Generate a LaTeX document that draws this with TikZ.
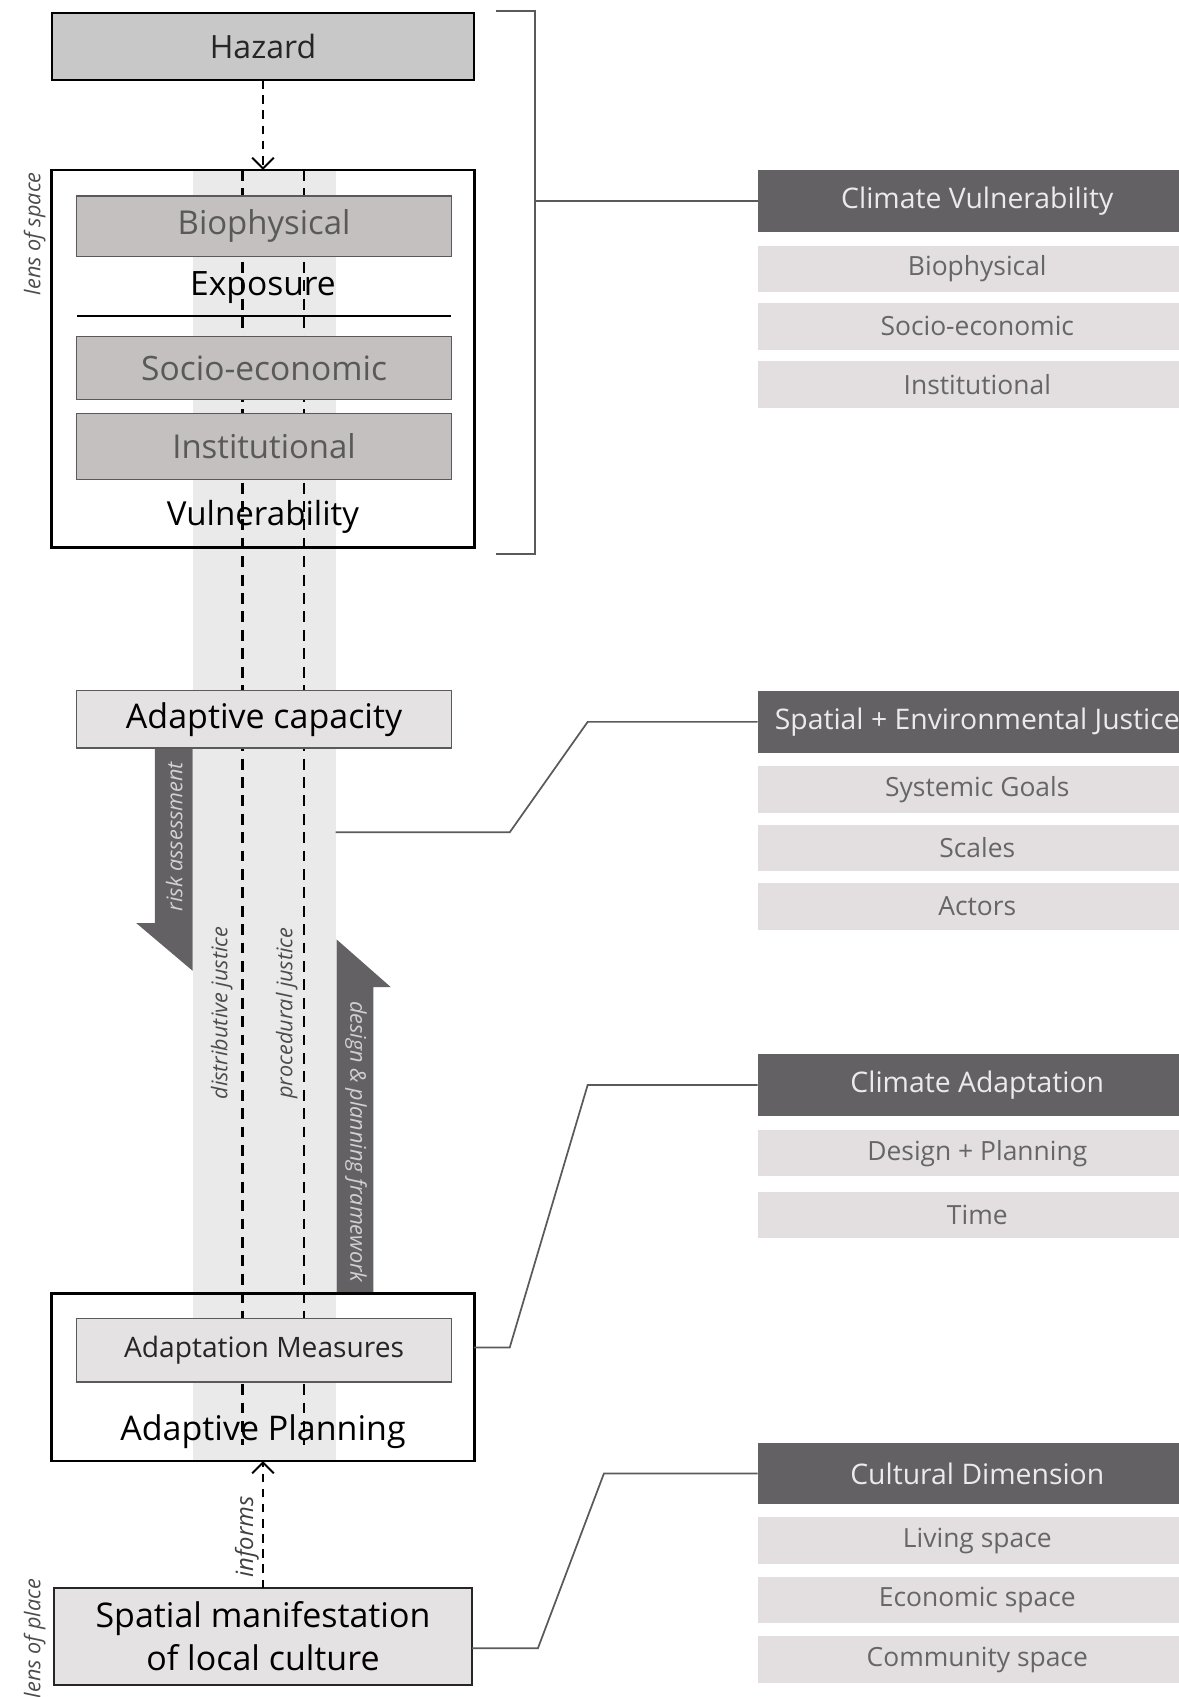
\documentclass[tikz,border=0pt]{standalone}
\usepackage{fontspec}
\setmainfont{Open Sans}
\usetikzlibrary{arrows.meta}
\definecolor{darkp}{HTML}{646165}
\definecolor{lightp}{HTML}{E3DFE0}
\definecolor{bandc}{HTML}{EBEAEB}
\definecolor{boxw}{HTML}{C4C0BF}
\definecolor{boxl}{HTML}{E4E2E3}
\definecolor{hazc}{HTML}{C8C8C8}
\definecolor{linec}{HTML}{5A5A5A}
\begin{document}
\begin{tikzpicture}[x=0.5pt,y=-0.5pt,
  every node/.style={inner sep=0pt,outer sep=0pt},
  outerbox/.style={draw=black,line width=1.1pt},
  graybox/.style={draw=linec,line width=0.6pt,fill=boxw,minimum width=173pt,text=black!65,font=\fontsize{15.2}{18}\selectfont},
  lightbox/.style={draw=linec,line width=0.6pt,fill=boxl,minimum width=173pt},
  bigtxt/.style={font=\fontsize{15.7}{20}\selectfont,text=black},
  hdr/.style={fill=darkp,text=white!92!black,minimum width=203pt,minimum height=28.5pt,font=\fontsize{13.1}{15}\selectfont},
  item/.style={fill=lightp,text=black!60,minimum width=203pt,minimum height=21.5pt,font=\fontsize{12.2}{14}\selectfont},
  conn/.style={draw=linec,line width=0.8pt},
  dashline/.style={draw=black,line width=1.2pt,dash pattern=on 5pt off 3.5pt},
  dasharrow/.style={draw=black,line width=1.1pt,dash pattern=on 4pt off 3pt,-{Straight Barb[length=5pt,width=10pt,line width=0.9pt]}},
  vlabel/.style={font=\fontsize{10}{12}\selectfont\itshape,text=black!70},
  arrtxt/.style={font=\fontsize{10}{12}\selectfont\itshape,text=black!18},
]
\useasboundingbox (0,0) rectangle (1089,1568);

% band and justice lines
\node[fill=bandc,minimum width=66pt,minimum height=596.5pt] (band) at (244,753.5) {};
\coordinate (d1t) at (224,157); \coordinate (d1b) at (224,1335);
\coordinate (d2t) at (281,157); \coordinate (d2b) at (281,1335);
\draw[dashline] (d1t) -- (d1b);
\draw[dashline] (d2t) -- (d2b);

% top section
\node[outerbox,fill=hazc,minimum width=195pt,minimum height=31pt,font=\fontsize{14.8}{17}\selectfont,text=black!85] (hazard) at (243,43) {\raisebox{-1.5pt}{Hazard}};
\node[outerbox,minimum width=195.5pt,minimum height=174.5pt] (vulbox) at (243,331.5) {};
\node[graybox,minimum height=28pt] (bio) at (244,209) {Biophysical};
\node[bigtxt,font=\fontsize{15.5}{18}\selectfont] (expo) at (243,266) {Exposure};
\coordinate (sepl) at (71,292); \coordinate (sepr) at (417,292);
\draw[line width=1.1pt] (sepl) -- (sepr);
\node[graybox,minimum height=29pt,font=\fontsize{15.5}{18}\selectfont] (socio) at (244,340) {Socio-economic};
\node[graybox,minimum height=30.5pt] (inst) at (244,412.5) {Institutional};
\node[bigtxt,font=\fontsize{15.3}{18}\selectfont] (vuln) at (243,478) {Vulnerability};
\draw[dasharrow] (hazard.south) -- (vulbox.north);

% adaptive capacity
\node[lightbox,minimum height=26.5pt,bigtxt] (adcap) at (244,664.5) {Adaptive capacity};

% risk assessment arrow (down)
\fill[darkp] (143,692) -- (178,692) -- (178,897) -- (126,853) -- (143,853) -- cycle;
\node[arrtxt,rotate=90] (risk) at (161,773) {risk assessment};

% justice labels
\node[vlabel,rotate=90] (distj) at (205,936) {distributive justice};
\node[vlabel,rotate=90] (procj) at (265,936) {procedural justice};

% design & planning arrow (up)
\fill[darkp] (311,1194) -- (345,1194) -- (345,912) -- (361,912) -- (311,868) -- cycle;
\node[arrtxt,rotate=-90] (dpf) at (329,1055) {design \& planning framework};

% adaptive planning
\node[outerbox,minimum width=195.5pt,minimum height=77.5pt] (planbox) at (243,1272.5) {};
\node[lightbox,minimum height=29.5pt,font=\fontsize{13}{16}\selectfont,text=black!85] (meas) at (244,1247.5) {Adaptation Measures};
\node[bigtxt] (aplan) at (243,1323) {Adaptive Planning};

% spatial manifestation
\node[draw=black!85,line width=0.9pt,fill=boxl,minimum width=193.5pt,minimum height=44.5pt,align=center,bigtxt] (spatial) at (243,1512) {Spatial manifestation\\of local culture};
\draw[dasharrow] (spatial.north) -- (planbox.south);
\node[rotate=90,font=\fontsize{11}{13}\selectfont\itshape,text=black!75] (informs) at (228,1420) {informs};

% lens labels
\node[vlabel,rotate=90] (lspace) at (32,216) {lens of space};
\node[vlabel,rotate=90] (lplace) at (32,1514) {lens of place};

% right panels
\node[hdr] (cv) at (903,185.5) {Climate Vulnerability};
\node[item] (cv1) at (903,248.5) {Biophysical};
\node[item] (cv2) at (903,301.5) {Socio-economic};
\node[item] (cv3) at (903,355.5) {Institutional};

\node[hdr] (sej) at (903,667) {Spatial + Environmental Justice};
\node[item] (sej1) at (903,729.5) {Systemic Goals};
\node[item] (sej2) at (903,783.5) {Scales};
\node[item] (sej3) at (903,837.5) {Actors};

\node[hdr] (ca) at (903,1002.5) {Climate Adaptation};
\node[item] (ca1) at (903,1065.5) {Design + Planning};
\node[item] (ca2) at (903,1122.5) {Time};

\node[hdr] (cd) at (903,1361.5) {Cultural Dimension};
\node[item] (cd1) at (903,1423.5) {Living space};
\node[item] (cd2) at (903,1478.5) {Economic space};
\node[item] (cd3) at (903,1533.5) {Community space};

% connectors
\coordinate (b1) at (458,10); \coordinate (b2) at (494,10);
\coordinate (b3) at (494,512); \coordinate (b4) at (458,512);
\draw[conn] (b1) -- (b2) -- (b3) -- (b4);
\draw[conn] (cv.west -| b2) -- (cv.west);

\coordinate (j1) at (310,769); \coordinate (j2) at (471,769); \coordinate (j3) at (543,667);
\draw[conn] (j1) -- (j2) -- (j3) -- (sej.west);

\coordinate (a1) at (438,1245); \coordinate (a2) at (471,1245); \coordinate (a3) at (543,1002.5);
\draw[conn] (a1) -- (a2) -- (a3) -- (ca.west);

\coordinate (c1) at (436,1523); \coordinate (c2) at (497,1523); \coordinate (c3) at (558,1361.5);
\draw[conn] (c1) -- (c2) -- (c3) -- (cd.west);
\end{tikzpicture}
\end{document}
